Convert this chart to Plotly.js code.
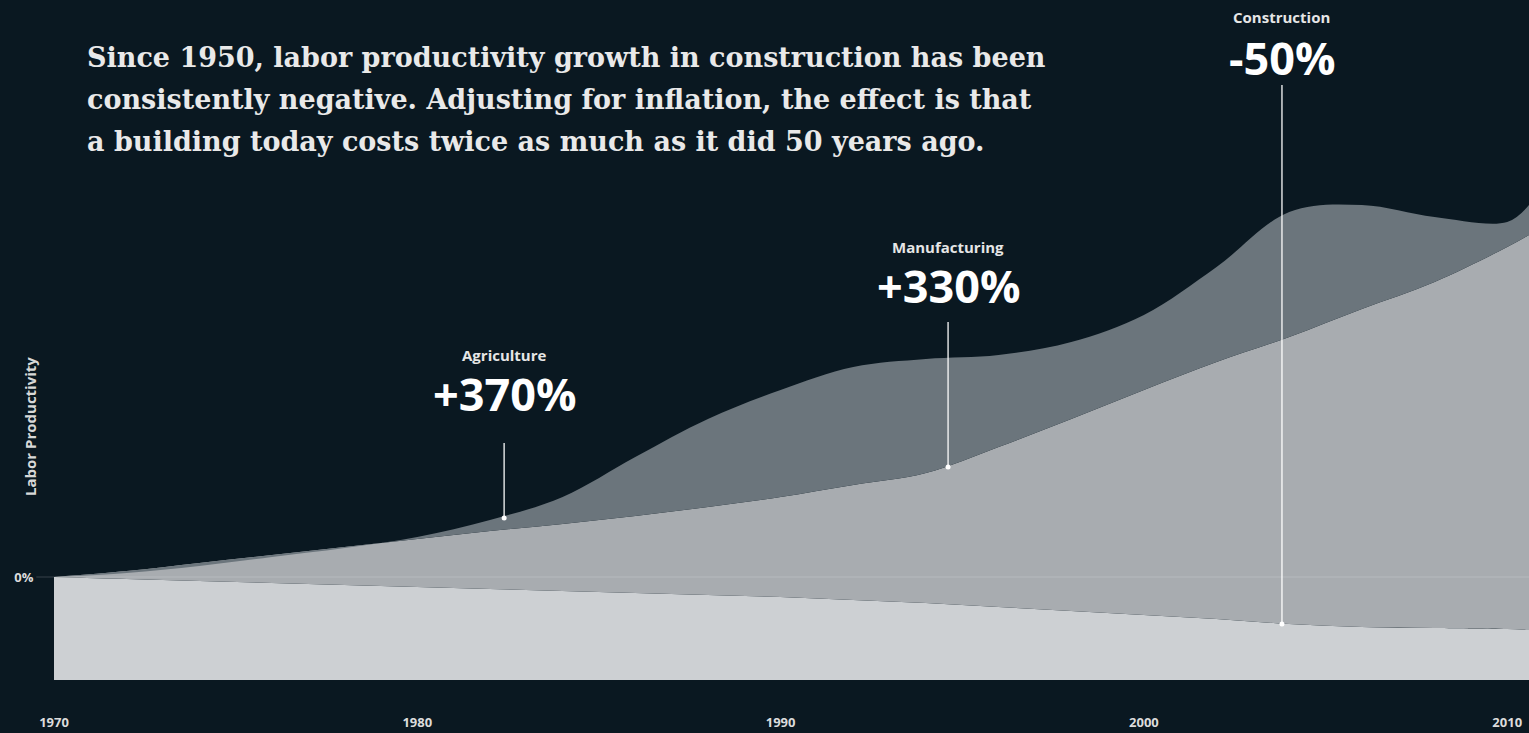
<!DOCTYPE html>
<html>
<head>
<meta charset="utf-8">
<script src="https://cdn.plot.ly/plotly-3.0.1.min.js"></script>
<style>
  html, body { margin: 0; padding: 0; background: #0a1821; }
  #chart { width: 1529px; height: 733px; }
</style>
</head>
<body>
<div id="chart"></div>
<script>
// ---- data ----
const years = [1970, 1972, 1974, 1976, 1978, 1980, 1982, 1984, 1986, 1988, 1990,
               1992, 1994, 1996, 1998, 2000, 2002, 2004, 2006, 2008, 2010, 2010.6];
const agriculture = [0, 4, 11, 20, 29, 40, 57, 80, 120, 158, 187,
                     210, 218, 222, 235, 262, 310, 365, 372, 360, 355, 372];
const manufacturing = [0, 6, 14, 22, 30, 38, 46, 53, 61, 70, 80,
                       92, 104, 130, 158, 187, 215, 240, 268, 295, 330, 342];
const construction = [0, -2, -4, -6, -8, -10, -12, -14, -16, -18, -20,
                      -23, -26, -30, -34, -38, -42, -47, -50, -51, -52, -53];
const baseline = years.map(() => -103);

const calloutNames = ['Agriculture', 'Manufacturing', 'Construction'];
const calloutValues = ['+370%', '+330%', '-50%'];
const calloutYears = [1982.39, 1994.61, 2003.8];
const calloutPoints = [59, 110, -47];
const calloutLineTops = [134, 255, 492];
const calloutNameY = [222, 330, 560];
const calloutValueY = [184, 292, 520];

const xTicks = [1970, 1980, 1990, 2000, 2010];
const headline = [
  'Since 1950, labor productivity growth in construction has been',
  'consistently negative. Adjusting for inflation, the effect is that',
  'a building today costs twice as much as it did 50 years ago.'
];

// ---- traces ----
const traces = [
  { x: years, y: baseline, mode: 'lines', line: { width: 0 }, hoverinfo: 'skip', showlegend: false },
  { x: years, y: construction, mode: 'lines', fill: 'tonexty', fillcolor: '#cdd0d3',
    line: { width: 0, shape: 'spline' }, name: 'Construction', showlegend: false },
  { x: years, y: manufacturing, mode: 'lines', fill: 'tonexty', fillcolor: '#a8acb0',
    line: { width: 0, shape: 'spline' }, name: 'Manufacturing', showlegend: false },
  { x: years, y: agriculture, mode: 'lines', fill: 'tonexty', fillcolor: '#6b757c',
    line: { width: 0, shape: 'spline' }, name: 'Agriculture', showlegend: false },
  { x: calloutYears, y: calloutPoints, mode: 'markers', marker: { color: '#ffffff', size: 5 },
    hoverinfo: 'skip', showlegend: false }
];

const shapes = [
  { type: 'line', xref: 'paper', yref: 'y', x0: -0.012, x1: 1, y0: 0, y1: 0,
    line: { color: 'rgba(255,255,255,0.18)', width: 1 }, layer: 'above' }
];
calloutYears.forEach((x, i) => {
  shapes.push({ type: 'line', xref: 'x', yref: 'y', x0: x, x1: x,
    y0: calloutLineTops[i], y1: calloutPoints[i],
    line: { color: 'rgba(255,255,255,0.85)', width: 1.5 }, layer: 'above' });
});

const annotations = [];
calloutYears.forEach((x, i) => {
  annotations.push({ x: x, y: calloutNameY[i], xref: 'x', yref: 'y', text: '<b>' + calloutNames[i] + '</b>',
    showarrow: false, font: { family: 'Open Sans', size: 15, color: '#e6e6e6' } });
  annotations.push({ x: x, y: calloutValueY[i], xref: 'x', yref: 'y', text: '<b>' + calloutValues[i] + '</b>',
    showarrow: false, font: { family: 'Open Sans', size: 45, color: '#ffffff' } });
});
const lineYs = [57, 99, 141];
headline.forEach((t, i) => {
  annotations.push({ x: (85 - 54) / 1475, y: 1 - lineYs[i] / 680, xref: 'paper', yref: 'paper',
    xanchor: 'left', yanchor: 'middle', text: '<b>' + t + '</b>', showarrow: false,
    font: { family: 'DejaVu Serif', size: 27, color: '#e9e9e9' } });
});
annotations.push({ x: (18 - 54) / 1475, y: 1 - 427 / 680, xref: 'paper', yref: 'paper',
  text: '<b>Labor Productivity</b>', textangle: -90, showarrow: false,
  font: { family: 'Open Sans', size: 15, color: '#d8d8d8' } });

const layout = {
  width: 1529, height: 733,
  margin: { l: 54, r: 0, t: 0, b: 53 },
  paper_bgcolor: '#0a1821', plot_bgcolor: '#0a1821',
  showlegend: false,
  xaxis: {
    range: [1970, 2010.6], tickvals: xTicks, ticktext: xTicks.map(String),
    showgrid: false, zeroline: false, showline: false,
    ticks: 'outside', ticklen: 30, tickcolor: 'rgba(0,0,0,0)',
    tickfont: { family: 'Open Sans', size: 13, color: '#dcdcdc', weight: 'bold' },
    automargin: false, fixedrange: true
  },
  yaxis: {
    range: [-103, 577], tickvals: [0], ticktext: ['0%'],
    showgrid: false, zeroline: false, showline: false,
    ticks: 'outside', ticklen: 17, tickcolor: 'rgba(0,0,0,0)',
    tickfont: { family: 'Open Sans', size: 13, color: '#dcdcdc', weight: 'bold' },
    automargin: false, fixedrange: true
  },
  shapes: shapes,
  annotations: annotations
};

Plotly.newPlot('chart', traces, layout, { displayModeBar: false, staticPlot: true });
</script>
</body>
</html>
